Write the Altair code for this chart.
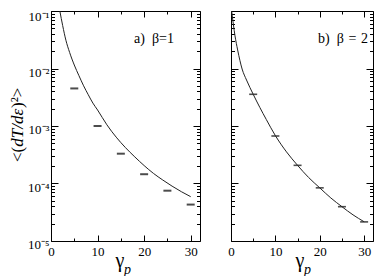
import altair as alt
import pandas as pd

# ---- data ----
gamma_pts = [5, 10, 15, 20, 25, 30]
beta1_data = [4.5e-3, 1.0e-3, 3.3e-4, 1.45e-4, 7.5e-5, 4.3e-5]
beta2_data = [3.56e-3, 6.7e-4, 2.07e-4, 8.4e-5, 3.95e-5, 2.15e-5]

beta1_curve_x = [1.9, 2.5, 3.2, 4.0, 5.0, 6.0, 7.0, 8.0, 9.0, 10, 12, 14, 16, 18, 20, 22, 24, 26, 28, 30]
beta1_curve_y = [1.0e-1, 5.6e-2, 3.1e-2, 1.9e-2, 1.15e-2, 7.5e-3, 5.0e-3, 3.5e-3, 2.5e-3, 1.9e-3,
                 1.05e-3, 6.4e-4, 4.2e-4, 2.9e-4, 2.05e-4, 1.5e-4, 1.15e-4, 9.0e-5, 7.2e-5, 5.9e-5]

beta2_curve_x = [0.15, 0.9, 1.5, 2.5, 3.5, 5, 6.5, 7.95, 10, 12.5, 15, 17.5, 20, 22.5, 25, 27.5, 30]
beta2_curve_y = [1.0e-1, 3.7e-2, 2.1e-2, 9.8e-3, 6.3e-3, 3.56e-3, 2.1e-3, 1.3e-3, 6.8e-4, 3.55e-4,
                 2.07e-4, 1.27e-4, 8.4e-5, 5.6e-5, 3.95e-5, 2.85e-5, 2.16e-5]

x_major = [0, 10, 20, 30]
x_ticks_all = [0, 5, 10, 15, 20, 25, 30]
y_major = [1e-5, 1e-4, 1e-3, 1e-2, 1e-1]
y_tick_labels = ["10⁻⁵", "10⁻⁴", "10⁻³", "10⁻²", "10⁻¹"]
y_minor = [m * 10.0 ** k for k in range(-5, -1) for m in range(2, 10)]
y_ticks_all = sorted(y_major + y_minor)

panel_labels = ["a)\u2002β=1", "b)\u2002β\u2004=\u20042"]
y_title_parts = ["<(", "dT/dε", ")²>"]
x_title_parts = ["γ", "p"]

FONT = "Liberation Serif"
XDOM = [0, 32]
YDOM = [1e-5, 1e-1]
H = 230

label_js = "[" + ",".join("'%s'" % s for s in y_tick_labels) + "]"
y_label_expr = label_js + "[round(log(datum.value)/LN10)+5]"
is_major_y = "abs(log(datum.value)/LN10 - round(log(datum.value)/LN10)) < 0.001"
y_tick_size = {"condition": {"test": is_major_y, "value": 7}, "value": 3.5}
x_tick_size = {"condition": {"test": "datum.value % 10 == 0", "value": 6}, "value": 3}

one = pd.DataFrame({"k": [0]})


def xs(axis):
    return alt.X("g:Q", scale=alt.Scale(domain=XDOM, nice=False, zero=False), axis=axis)


def ys(axis):
    return alt.Y("v:Q", scale=alt.Scale(type="log", domain=YDOM, nice=False), axis=axis)


def tick_axis_y(orient, W):
    return alt.Axis(orient=orient, offset=-W, values=y_ticks_all, labels=False, domain=False,
                    grid=False, title=None, ticks=True, tickSize=y_tick_size,
                    tickColor="black", tickWidth=1)


def tick_axis_x(orient):
    return alt.Axis(orient=orient, offset=-H, values=x_ticks_all, labels=False, domain=False,
                    grid=False, title=None, ticks=True, tickSize=x_tick_size,
                    tickColor="black", tickWidth=1)


x_lab_axis = alt.Axis(orient="bottom", values=x_major, ticks=False, domain=False, grid=False,
                      title=None, labelFont=FONT, labelFontSize=13, labelColor="black",
                      labelPadding=4, labelFlush=False, labelOverlap=False)

y_lab_axis = alt.Axis(orient="left", values=y_major, labelExpr=y_label_expr, ticks=False,
                      domain=False, grid=False, title=None, labelFont=FONT, labelFontSize=13,
                      labelColor="black", labelPadding=2, labelOverlap=False,
                      labelBaseline={"condition": {"test": "datum.value > 0.05", "value": "top"},
                                     "value": "middle"},
                      labelOffset={"condition": {"test": "datum.value > 0.05", "value": -1},
                                   "value": 3.5})


def panel(W, pts_y, cx, cy, label, label_x, label_y, dash_th, with_ylabels):
    pts = pd.DataFrame({"g": gamma_pts, "v": pts_y})
    cur = pd.DataFrame({"g": cx, "v": cy})
    dashes = alt.Chart(pts).mark_tick(orient="horizontal", size=8, thickness=dash_th,
                                      color="black").encode(
        x=xs(x_lab_axis), y=ys(y_lab_axis if with_ylabels else None))
    line = alt.Chart(cur).mark_line(color="#222", strokeWidth=1, interpolate="monotone").encode(
        x=xs(tick_axis_x("top")), y=ys(tick_axis_y("right", W)))
    line2 = alt.Chart(cur).mark_line(opacity=0).encode(
        x=xs(tick_axis_x("bottom")), y=ys(tick_axis_y("left", W)))
    txt = alt.Chart(one).mark_text(align="left", baseline="alphabetic", font=FONT,
                                   fontSize=14, color="black").encode(
        x=alt.value(label_x), y=alt.value(label_y), text=alt.value(label))
    gx = alt.Chart(one).mark_text(align="center", baseline="alphabetic", font=FONT,
                                  fontSize=20, color="black").encode(
        x=alt.value(69), y=alt.value(256), text=alt.value(x_title_parts[0]))
    gp = alt.Chart(one).mark_text(align="left", baseline="alphabetic", font=FONT,
                                  fontSize=14, fontStyle="italic", color="black").encode(
        x=alt.value(73), y=alt.value(263), text=alt.value(x_title_parts[1]))
    layers = [dashes, line, line2, txt, gx, gp]
    if with_ylabels:
        tx = -33
        ya = alt.Chart(one).mark_text(angle=270, align="left", baseline="middle", font=FONT,
                                      fontSize=17, color="black").encode(
            x=alt.value(tx), y=alt.value(151), text=alt.value(y_title_parts[0]))
        yb = alt.Chart(one).mark_text(angle=270, align="left", baseline="middle", font=FONT,
                                      fontSize=17, fontStyle="italic", color="black").encode(
            x=alt.value(tx), y=alt.value(151 - 15.3), text=alt.value(y_title_parts[1]))
        yc = alt.Chart(one).mark_text(angle=270, align="left", baseline="middle", font=FONT,
                                      fontSize=17, color="black").encode(
            x=alt.value(tx), y=alt.value(151 - 15.3 - 38.7), text=alt.value(y_title_parts[2]))
        layers += [ya, yb, yc]
    return alt.layer(*layers).resolve_axis(x="independent", y="independent").properties(
        width=W, height=H)


left = panel(149, beta1_data, beta1_curve_x, beta1_curve_y, panel_labels[0], 83, 31.5, 2, True)
right = panel(142, beta2_data, beta2_curve_x, beta2_curve_y, panel_labels[1], 87, 32, 1.6, False)

chart = alt.hconcat(left, right, spacing=31, bounds="flush").properties(
    padding={"left": 0, "top": 0, "right": 0, "bottom": 0}
).configure_view(stroke="black", strokeWidth=1)

chart.save("out.html", embed_options={"renderer": "svg", "actions": False})
